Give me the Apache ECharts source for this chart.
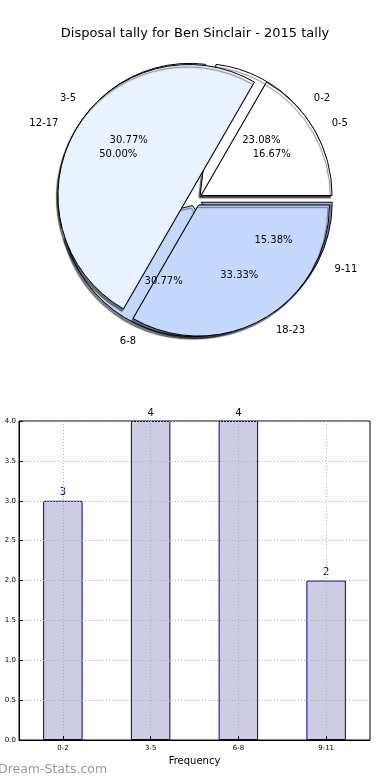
<!DOCTYPE html>
<html><head><meta charset="utf-8">
<script src="https://cdn.jsdelivr.net/npm/echarts@6/dist/echarts.min.js"></script>
<style>html,body{margin:0;padding:0;background:#fff}#c{width:390px;height:780px}</style>
</head><body><div id="c"></div>
<script>
const titleText = 'Disposal tally for Ben Sinclair - 2015 tally';
const quarterCats = ['0-2', '3-5', '6-8', '9-11'];
const quarterCounts = [3, 4, 4, 2];
const hourCats = ['0-5', '12-17', '18-23'];
const hourCounts = [1, 3, 2];
const xAxisName = 'Frequency';
const watermark = 'Dream-Stats.com';

const quarterColors = ['#ffffff', '#eaf1ff', '#c5d9ff', '#9fbfff'];
const hourColors = ['#ffffff', '#eaf1ff', '#c5d9ff'];

const FONT = 'DejaVu Sans';
const C = [195, 199], R = 131, OFF = 7;

function pieData(cats, vals, colors, transparent) {
  return cats.map((c, i) => ({
    name: c, value: vals[i], selected: true,
    itemStyle: transparent ? {color: 'rgba(0,0,0,0)', borderWidth: 0}
      : {color: colors[i], borderColor: '#000', borderWidth: 1,
         shadowColor: 'rgba(0,0,0,0.5)', shadowOffsetX: -1.5, shadowOffsetY: 2.5, shadowBlur: 1}
  }));
}
function mainPie(cats, vals, colors, z) {
  return {
    type: 'pie', center: C, radius: [0, R], startAngle: 0, clockwise: false,
    selectedMode: 'multiple', selectedOffset: OFF, avoidLabelOverlap: false,
    animation: false, silent: true, z: z,
    label: {show: true, position: 'outside', formatter: '{b}', fontFamily: FONT, fontSize: 10, color: '#000'},
    labelLine: {show: false, length: 14, length2: 0},
    emphasis: {disabled: true},
    data: pieData(cats, vals, colors, false)
  };
}
function pctPie(cats, vals, z) {
  return {
    type: 'pie', center: C, radius: [R * 0.2, R], startAngle: 0, clockwise: false,
    selectedMode: 'multiple', selectedOffset: OFF, avoidLabelOverlap: false,
    animation: false, silent: true, z: z,
    label: {show: true, position: 'inside', fontFamily: FONT, fontSize: 10, color: '#000',
      formatter: p => p.percent.toFixed(2) + '%'},
    labelLine: {show: false},
    emphasis: {disabled: true},
    data: pieData(cats, vals, null, true)
  };
}

const chart = echarts.init(document.getElementById('c'), null, {renderer: 'canvas'});
chart.setOption({
  animation: false,
  backgroundColor: '#fff',
  title: {text: titleText, left: 'center', top: 22,
    textStyle: {fontFamily: FONT, fontSize: 13, fontWeight: 'normal', color: '#000'}},
  grid: {left: 19, right: 20, top: 421, bottom: 40, show: true, borderColor: '#000', borderWidth: 1, backgroundColor: 'transparent'},
  xAxis: {
    type: 'category', data: quarterCats, z: 5,
    name: xAxisName, nameLocation: 'middle', nameGap: 16,
    nameTextStyle: {fontFamily: FONT, fontSize: 10, color: '#000'},
    axisLine: {lineStyle: {color: '#000'}},
    axisTick: {show: true, alignWithLabel: true, inside: true, length: 4, lineStyle: {color: '#000'}},
    axisLabel: {fontFamily: FONT, fontSize: 7, color: '#000', margin: 5},
    splitLine: {show: true, alignWithLabel: true, lineStyle: {color: '#b0b0b0', type: [1, 2], width: 1}}
  },
  yAxis: {
    type: 'value', min: 0, max: 4, interval: 0.5, z: 5,
    axisLine: {show: true, lineStyle: {color: '#000'}},
    axisTick: {show: true, inside: true, length: 4, lineStyle: {color: '#000'}},
    axisLabel: {fontFamily: FONT, fontSize: 7, color: '#000', margin: 3, formatter: v => v.toFixed(1)},
    splitLine: {show: true, lineStyle: {color: '#b0b0b0', type: [1, 2], width: 1}}
  },
  graphic: [{type: 'text', left: -2, top: 763, z: 10,
    style: {text: watermark, fontFamily: FONT, fontSize: 12.5, fontWeight: 'normal', fill: '#999999'}}],
  series: [
    mainPie(quarterCats, quarterCounts, quarterColors, 2),
    mainPie(hourCats, hourCounts, hourColors, 3),
    pctPie(quarterCats, quarterCounts, 4),
    pctPie(hourCats, hourCounts, 4),
    {
      type: 'bar', data: quarterCounts, barWidth: '45%', z: 2,
      itemStyle: {color: '#ccccE5', borderColor: '#00008b', borderWidth: 1},
      label: {show: true, position: 'top', distance: 3, fontFamily: FONT, fontSize: 10, color: '#00008b'}
    }
  ]
});
</script></body></html>
